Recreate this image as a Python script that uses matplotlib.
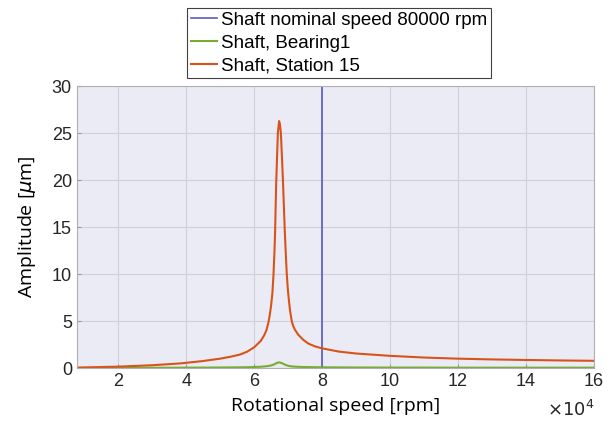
import numpy as np
import matplotlib.pyplot as plt

# Unbalance response
speed = [8000, 20000, 30000, 38500, 45000, 50000, 53000, 56000, 58000, 60000,
         62000, 63000, 63600, 64200, 64600, 65000, 65400, 65700, 66000, 66200,
         66500, 66800, 67000, 67370, 67600, 67900, 68200, 68500, 68700, 69000,
         69300, 69600, 69900, 70200, 70600, 71100, 71500, 72000, 73000, 74500,
         76000, 78000, 80000, 85000, 90000, 100000, 110000, 120000, 130000,
         140000, 150000, 160000]
station15 = [0.05, 0.15, 0.3, 0.5, 0.75, 1.0, 1.2, 1.45, 1.75, 2.2,
             2.9, 3.5, 4.0, 4.8, 5.6, 6.6, 8.0, 9.8, 12.3, 14.6,
             19.5, 22.8, 25.0, 26.3, 26.0, 25.0, 22.5, 20.0, 18.0, 15.0,
             12.5, 10.2, 8.6, 7.4, 6.1, 5.0, 4.5, 4.1, 3.55, 3.0,
             2.6, 2.3, 2.1, 1.75, 1.55, 1.3, 1.12, 1.0, 0.92,
             0.86, 0.81, 0.77]
bearing1 = [0.01, 0.02, 0.03, 0.04, 0.05, 0.06, 0.07, 0.08, 0.09, 0.11,
            0.14, 0.17, 0.19, 0.22, 0.25, 0.28, 0.32, 0.36, 0.4, 0.44,
            0.5, 0.55, 0.58, 0.6, 0.59, 0.56, 0.52, 0.47, 0.43, 0.38,
            0.33, 0.29, 0.26, 0.23, 0.2, 0.18, 0.16, 0.15, 0.13, 0.11,
            0.1, 0.09, 0.08, 0.07, 0.06, 0.05, 0.05, 0.04, 0.04,
            0.04, 0.04, 0.04]
nominal = 80000

xticks = [20000, 40000, 60000, 80000, 100000, 120000, 140000, 160000]
yticks = [0, 5, 10, 15, 20, 25, 30]

plt.rcParams['font.family'] = ['Liberation Sans', 'DejaVu Sans']

fig = plt.figure(figsize=(6.14, 4.25), dpi=100)
ax = fig.add_axes([0.125, 0.134, 0.842, 0.663])
ax.set_facecolor('#ebebf5')

ax.axvline(nominal, color='#5a5ac0', lw=1.2, label='Shaft nominal speed 80000 rpm')
ax.plot(speed, bearing1, color='#77ac30', lw=1.5, label='Shaft, Bearing1')
ax.plot(speed, station15, color='#d95319', lw=1.5, label='Shaft, Station 15')

ax.set_xlim(7800, 160000)
ax.set_ylim(0, 30)
ax.set_xticks(xticks)
ax.set_xticklabels([str(v // 10000) for v in xticks])
ax.set_yticks(yticks)
ax.tick_params(labelsize=13, direction='in', length=3, color='#999999', labelcolor='#262626')
ax.grid(True, color='#d0d0d8', lw=0.8)
ax.set_axisbelow(True)
for s in ax.spines.values():
    s.set_color('#b0b0b0')
    s.set_linewidth(0.8)

ax.set_xlabel('Rotational speed [rpm]', fontsize=14, family='Open Sans', labelpad=5)
ax.set_ylabel('Amplitude [$\\mu$m]', fontsize=14, family='Open Sans', labelpad=10)
fig.text(594 / 614, 5 / 425, '$\\times10^4$', ha='right', va='bottom',
         fontsize=13, color='#262626')

leg = fig.legend(loc='upper left', bbox_to_anchor=(187 / 614, 1 - 8 / 425),
                 fontsize=13.5, handlelength=1.4, handletextpad=0.2, labelspacing=0.3,
                 borderpad=0.2, borderaxespad=0, fancybox=False, framealpha=1)
leg.get_frame().set_edgecolor('#404040')
leg.get_frame().set_linewidth(0.8)

fig.savefig('out.png', dpi=100)
